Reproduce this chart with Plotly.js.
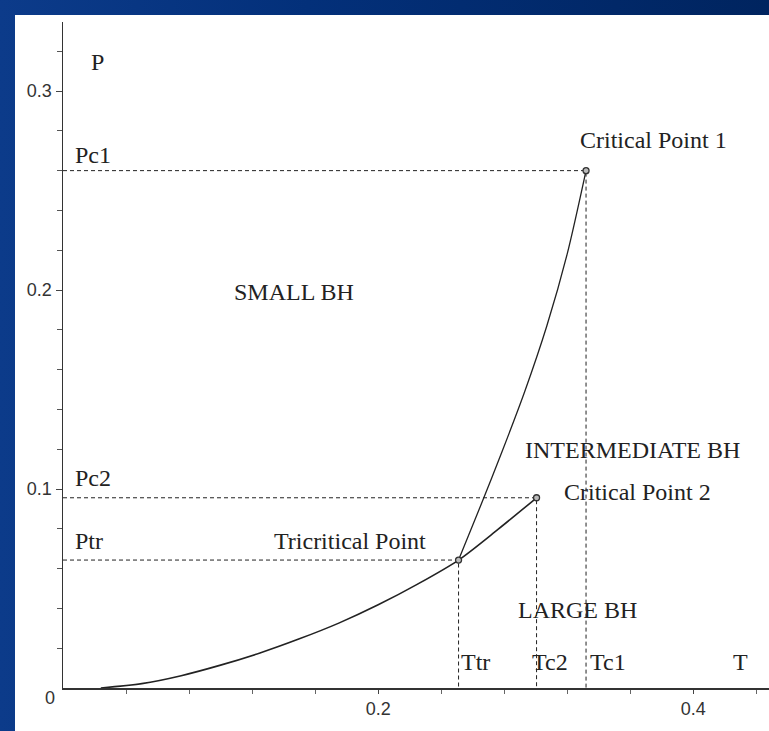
<!DOCTYPE html>
<html>
<head>
<meta charset="utf-8">
<script src="https://cdn.plot.ly/plotly-3.0.1.min.js"></script>
<style>
  html, body { margin: 0; padding: 0; }
  body {
    width: 769px; height: 731px; overflow: hidden;
    background: linear-gradient(to right, #0c3b8a 0%, #03307a 40%, #00245f 100%);
    position: relative;
  }
  #chart { position: absolute; left: 15px; top: 15px; width: 754px; height: 716px; background: #fff; }
</style>
</head>
<body>
<div id="chart"></div>
<script>
// Coexistence line: small/large BH (below the tricritical point) continuing to critical point 2
const lowerT = [0.024, 0.050, 0.075, 0.100, 0.125, 0.150, 0.175, 0.200, 0.225, 0.251, 0.276, 0.3005];
const lowerP = [0.0000, 0.0022, 0.0062, 0.0115, 0.0176, 0.0247, 0.0326, 0.0418, 0.0522, 0.0643, 0.0797, 0.0956];
// Coexistence line: small/intermediate BH from tricritical point to critical point 1
const upperT = [0.251, 0.265, 0.279, 0.293, 0.307, 0.320, 0.3319];
const upperP = [0.0643, 0.0916, 0.1196, 0.1490, 0.1819, 0.2183, 0.2600];
// Special points (tricritical, critical 2, critical 1)
const pointT = [0.251, 0.3005, 0.3319];
const pointP = [0.0643, 0.0956, 0.2600];
// Tick labels
const xTickVals = [0.2, 0.4];
const xTickText = ['0.2', '0.4'];
const yTickVals = [0.1, 0.2, 0.3];
const yTickText = ['0.1', '0.2', '0.3'];

const ink = '#222';
const serif = 'Liberation Serif, Times New Roman, serif';
const sans = 'Liberation Sans, Arial, sans-serif';

const traces = [];
// dashed guide lines from each special point to the axes
for (let i = 0; i < pointT.length; i++) {
  traces.push({
    x: [0, pointT[i], pointT[i]], y: [pointP[i], pointP[i], 0],
    mode: 'lines', line: {color: ink, width: 1, dash: '4px,3px'},
    hoverinfo: 'skip', showlegend: false, cliponaxis: false
  });
}
traces.push({x: lowerT, y: lowerP, mode: 'lines', line: {color: ink, width: 1.6, shape: 'spline', smoothing: 0.8}, showlegend: false});
traces.push({x: upperT, y: upperP, mode: 'lines', line: {color: ink, width: 1.3, shape: 'spline', smoothing: 0.8}, showlegend: false});
traces.push({x: pointT, y: pointP, mode: 'markers', marker: {symbol: 'circle', size: 6, color: '#bbb', line: {width: 1.3, color: '#333'}}, showlegend: false, cliponaxis: false});

function ann(text, x, y, xanchor, size, font) {
  return {text: text, x: x, y: y, xref: 'x', yref: 'y', xanchor: xanchor || 'left', yanchor: 'middle',
    showarrow: false, font: {family: font || serif, size: size || 24, color: ink}};
}

const minorX = []; for (let k = 1; k <= 11; k++) minorX.push(+(k * 0.04).toFixed(2));
const minorY = []; for (let k = 1; k <= 16; k++) minorY.push(+(k * 0.02).toFixed(2));

const layout = {
  width: 754, height: 716,
  margin: {l: 48, r: 0, t: 7, b: 43, pad: 0},
  paper_bgcolor: '#fff', plot_bgcolor: '#fff',
  showlegend: false,
  xaxis: {
    range: [0, 0.448], showgrid: false, zeroline: false,
    showline: true, linecolor: '#333', linewidth: 1.5,
    tickmode: 'array', tickvals: xTickVals, ticktext: xTickText,
    ticks: 'outside', ticklen: 4, tickcolor: '#444', tickwidth: 1,
    tickfont: {family: sans, size: 18, color: '#333'},
    minor: {tickmode: 'array', tickvals: minorX, ticks: 'outside', ticklen: 4, tickcolor: '#666', tickwidth: 1, showgrid: false}
  },
  yaxis: {
    range: [0, 0.3347], showgrid: false, zeroline: false,
    showline: true, linecolor: '#333', linewidth: 1.5,
    tickmode: 'array', tickvals: yTickVals, ticktext: yTickText,
    ticks: 'outside', ticklen: 6, tickcolor: '#444', tickwidth: 1,
    tickfont: {family: sans, size: 18, color: '#333'},
    minor: {tickmode: 'array', tickvals: minorY, ticks: 'outside', ticklen: 5, tickcolor: '#555', tickwidth: 1, showgrid: false}
  },
  annotations: [
    ann('P', 0.0216, 0.3146, 'center'),
    ann('Pc1', 0.0064, 0.2678),
    ann('Critical Point 1', 0.327, 0.2754),
    ann('SMALL BH', 0.1073, 0.199),
    ann('INTERMEDIATE BH', 0.2921, 0.1196),
    ann('Critical Point 2', 0.3168, 0.0985),
    ann('Pc2', 0.0064, 0.1055),
    ann('Ptr', 0.0064, 0.0739),
    ann('Tricritical Point', 0.2317, 0.0739, 'right'),
    ann('LARGE BH', 0.2876, 0.0392),
    ann('Ttr', 0.2514, 0.0131),
    ann('Tc2', 0.2965, 0.0131),
    ann('Tc1', 0.3333, 0.0131),
    ann('T', 0.4298, 0.0131, 'center'),
    {text: '0', x: -0.0184, y: -0.015, xref: 'paper', yref: 'paper', xanchor: 'center', yanchor: 'middle',
     showarrow: false, font: {family: sans, size: 18, color: '#333'}}
  ]
};

Plotly.newPlot('chart', traces, layout, {staticPlot: true, displayModeBar: false});
</script>
</body>
</html>
